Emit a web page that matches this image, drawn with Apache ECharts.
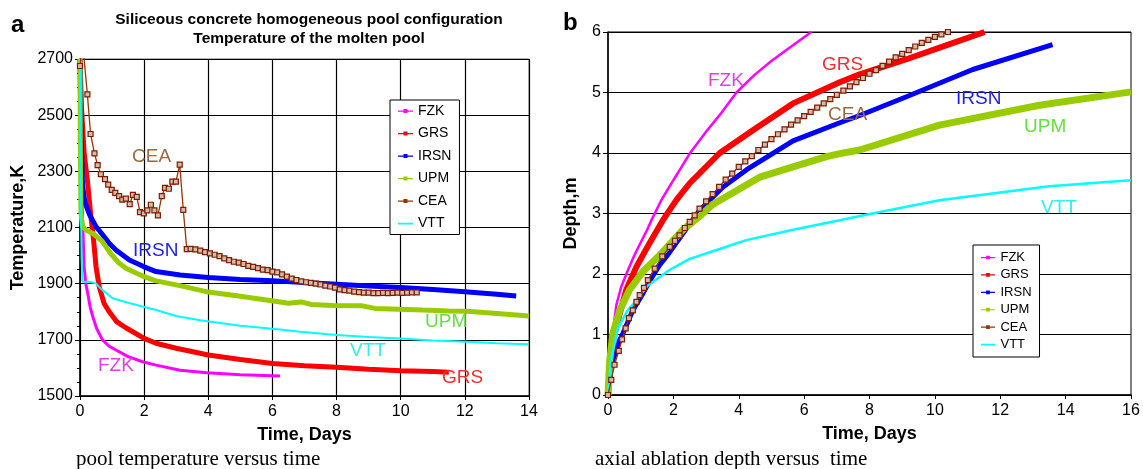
<!DOCTYPE html>
<html>
<head>
<meta charset="utf-8">
<script src="https://cdn.jsdelivr.net/npm/echarts@6/dist/echarts.min.js"></script>
<style>
  html, body { margin: 0; padding: 0; background: #fff; }
  #chart { width: 1143px; height: 469px; }
</style>
</head>
<body>
<div id="chart"></div>
<script>
// names of the codes, same order in both panels
const codes = ['FZK', 'GRS', 'IRSN', 'UPM', 'CEA', 'VTT'];
const colors = ['#ff00ff', '#ff0000', '#0000ff', '#99cc00', '#993300', '#00ffff'];

// panel a : temperature of the molten pool [day, K]
const tempFZK = [[0,2700],[0.03,2450],[0.06,2250],[0.08,2127],[0.13,1960],[0.18,1900],[0.24,1866],[0.32,1815],[0.4,1782],[0.52,1740],[0.7,1700],[0.9,1678],[1.12,1664],[1.5,1640],[1.95,1622],[2.37,1610],[3.12,1592],[3.95,1583],[5,1576],[6.24,1571]];
const tempGRS = [[0,2700],[0.05,2520],[0.13,2364],[0.24,2257],[0.34,2138],[0.42,2060],[0.5,1960],[0.6,1889],[0.75,1830],[0.91,1800],[1.14,1765],[1.43,1743],[2,1705],[2.37,1688],[3,1670],[4,1646],[5,1630],[6,1616],[7,1608],[8,1602],[9,1595],[10,1590],[11,1587],[11.5,1585]];
const tempIRSN = [[0,2700],[0.03,2450],[0.08,2250],[0.15,2190],[0.3,2145],[0.5,2103],[0.7,2075],[0.91,2044],[1.12,2020],[1.54,1984],[2,1960],[2.37,1943],[3.12,1931],[4,1922],[5,1915],[6,1910],[7,1904],[8,1898],[9,1892],[10,1886],[11,1879],[12,1871],[13,1862],[13.6,1856]];
const tempUPM = [[0,2700],[0.01,2400],[0.03,2150],[0.08,2103],[0.2,2090],[0.4,2079],[0.55,2065],[0.7,2050],[0.94,2010],[1.2,1975],[1.43,1955],[2,1925],[2.37,1910],[3.12,1893],[4,1870],[5,1855],[5.82,1842],[6.5,1830],[6.9,1835],[7.2,1826],[7.9,1822],[8.8,1821],[9.2,1812],[10.7,1806],[11.5,1803],[12.06,1802],[12.6,1797],[13.2,1792],[14,1785]];
const tempCEA = [[0,2675],[0.08,2760],[0.23,2574],[0.33,2433],[0.45,2364],[0.55,2322],[0.65,2290],[0.78,2272],[0.88,2253],[0.99,2234],[1.1,2223],[1.22,2212],[1.32,2199],[1.43,2203],[1.55,2183],[1.65,2216],[1.77,2209],[1.87,2155],[1.99,2150],[2.1,2161],[2.21,2181],[2.32,2161],[2.43,2143],[2.55,2212],[2.65,2241],[2.77,2238],[2.88,2263],[2.99,2263],[3.11,2324],[3.22,2163],[3.33,2023],
  [3.45,2024],[3.6,2022],[3.75,2018],[3.9,2012],[4.05,2008],[4.2,2003],[4.35,1998],[4.5,1990],[4.65,1984],[4.8,1978],[4.95,1975],[5.1,1970],[5.25,1963],[5.4,1960],[5.55,1955],[5.7,1950],[5.85,1948],[6,1943],[6.15,1940],[6.3,1933],[6.45,1925],[6.6,1918],[6.75,1913],[6.9,1908],[7.05,1905],[7.2,1903],[7.35,1900],[7.5,1897],[7.65,1893],[7.8,1890],[7.95,1886],[8.1,1880],[8.25,1877],[8.4,1875],[8.55,1872],[8.7,1870],[8.85,1868],[9,1868],[9.15,1866],[9.3,1866],[9.45,1867],[9.6,1866],[9.75,1867],[9.9,1868],[10.05,1867],[10.2,1868],[10.35,1869],[10.5,1869]];
const tempVTT = [[0,2700],[0.02,2300],[0.05,1990],[0.08,1907],[0.29,1907],[0.5,1901],[0.6,1888],[0.7,1877],[1.02,1848],[1.5,1832],[1.97,1818],[2.37,1806],[3,1785],[3.74,1770],[5,1750],[6.24,1737],[6.86,1729],[8,1717],[9,1710],[9.98,1705],[11,1698],[12.06,1693],[13,1688],[13.98,1684]];

// panel b : axial ablation depth [day, m]
const depthFZK = [[0,0],[0.1,0.85],[0.26,1.5],[0.4,1.78],[0.6,2.05],[0.8,2.3],[1,2.52],[1.17,2.7],[1.33,2.89],[1.63,3.22],[2,3.55],[2.5,3.99],[3,4.35],[3.42,4.63],[3.93,5],[4.5,5.3],[5,5.52],[5.5,5.72],[6.22,6]];
const depthGRS = [[0,0],[0.1,0.7],[0.2,1],[0.36,1.35],[0.56,1.74],[0.87,2.12],[1.27,2.51],[1.68,2.89],[2.09,3.22],[2.5,3.5],[3.42,4],[4.5,4.4],[5.66,4.82],[7.09,5.17],[7.7,5.3],[8.5,5.44],[9.13,5.55],[10.3,5.77],[11.52,6]];
const depthIRSN = [[0,0],[0.1,0.5],[0.36,0.91],[0.46,1.02],[0.76,1.4],[1.07,1.68],[1.27,1.88],[1.58,2.15],[1.79,2.29],[2.4,2.75],[2.8,3.05],[3.5,3.43],[4.23,3.72],[5.66,4.2],[7.09,4.5],[7.7,4.62],[9.13,4.93],[11.16,5.38],[13.6,5.79]];
const depthUPM = [[0,0],[0.05,0.55],[0.15,1.02],[0.36,1.4],[0.66,1.74],[1.07,2.04],[1.58,2.31],[2.29,2.73],[2.8,2.95],[3.2,3.15],[4.64,3.6],[6.68,3.94],[7.09,3.99],[7.7,4.05],[10.14,4.46],[13.2,4.79],[16,5.01]];
const depthCEA = [[0,0],[0.1,0.25],[0.2,0.5],[0.33,0.73],[0.43,0.92],[0.54,1.1],[0.64,1.27],[0.76,1.4],[0.87,1.54],[0.97,1.65],[1.1,1.77],[1.22,1.9],[1.43,2.09],[1.66,2.29],[1.89,2.45],[2.05,2.55],[2.19,2.64],[2.35,2.76],[2.5,2.86],[2.65,2.97],
  [2.8,3.08],[3,3.2],[3.2,3.32],[3.4,3.44],[3.6,3.56],[3.8,3.66],[4,3.77],[4.2,3.86],[4.4,3.95],[4.6,4.05],[4.8,4.14],[5,4.23],[5.2,4.31],[5.4,4.39],[5.6,4.47],[5.8,4.54],[6,4.61],[6.2,4.68],[6.4,4.75],[6.6,4.82],[6.8,4.89],[7,4.96],[7.2,5.03],[7.4,5.1],[7.6,5.17],[7.8,5.24],[8,5.31],[8.2,5.37],[8.4,5.44],[8.6,5.51],[8.8,5.58],[9,5.64],[9.2,5.7],[9.4,5.76],[9.6,5.82],[9.8,5.87],[10,5.92],[10.2,5.96],[10.4,6]];
const depthVTT = [[0,0],[0.1,0.6],[0.3,1.1],[0.6,1.4],[0.88,1.57],[1.2,1.8],[1.89,2.07],[2.5,2.25],[3.62,2.45],[4.23,2.56],[5.66,2.73],[7.09,2.89],[7.7,2.96],[10.14,3.22],[13.5,3.45],[16,3.55]];

const tempData = [tempFZK, tempGRS, tempIRSN, tempUPM, tempCEA, tempVTT];
const depthData = [depthFZK, depthGRS, depthIRSN, depthUPM, depthCEA, depthVTT];

// line widths per code, panel a then panel b
const widthA = [3, 5, 5, 5, 1.3, 2];
const widthB = [2.5, 6, 5, 7, 1.3, 2.5];

const font = 'Liberation Sans, Arial, sans-serif';
const serif = 'Liberation Serif, Times New Roman, serif';

function makeSeries(data, idx, widths) {
    return data.map((d, i) => ({
        name: codes[i],
        type: 'line',
        xAxisIndex: idx,
        yAxisIndex: idx,
        data: d,
        z: i == 4 ? 5 : 3,
        symbol: i == 4 ? 'rect' : 'none',
        symbolSize: 5,
        showSymbol: i == 4,
        itemStyle: i == 4 ? { color: '#d8b8a8', borderColor: '#7a1e00', borderWidth: 1.2 } : { color: colors[i] },
        lineStyle: { color: colors[i], width: widths[i] },
        clip: true
    }));
}

// legend icon: a short line with a small marker, the tiny corner dots keep the box 15x14
const legendIcon = 'path://M0,0h0.05v0.05h-0.05z M0,6.4h15v1.3h-15z M5.5,5h4v4h-4z M14.95,13.95h0.05v0.05h-0.05z';
const legendItems = codes.map((c, i) => ({
    name: c,
    icon: i == 5 ? 'path://M0,0h0.05v0.05h-0.05z M0,6.2h15v1.8h-15z M14.95,13.95h0.05v0.05h-0.05z' : legendIcon,
    itemStyle: { color: colors[i], borderWidth: 0 }
}));

// series labels written on the plots
const labelsA = [
    { text: 'CEA', x: 132, y: 157, c: '#9c6a3c' },
    { text: 'IRSN', x: 133, y: 251, c: '#2020ee' },
    { text: 'FZK', x: 98, y: 366, c: '#e040e0' },
    { text: 'UPM', x: 425, y: 322, c: '#66e040' },
    { text: 'VTT', x: 350, y: 351, c: '#30eeee' },
    { text: 'GRS', x: 442, y: 378, c: '#ee3030' }
];
const labelsB = [
    { text: 'FZK', x: 708, y: 81, c: '#e040e0' },
    { text: 'GRS', x: 822, y: 65, c: '#ee3030' },
    { text: 'CEA', x: 828, y: 115, c: '#9c6a3c' },
    { text: 'IRSN', x: 956, y: 99, c: '#2020ee' },
    { text: 'UPM', x: 1024, y: 127, c: '#66e040' },
    { text: 'VTT', x: 1041, y: 208, c: '#30eeee' }
];

const texts = labelsA.concat(labelsB).map(l => ({
    type: 'text', x: l.x, y: l.y, z: 10,
    style: { text: l.text, fill: l.c, font: '19px ' + font, textVerticalAlign: 'middle' }
}));

let chart = echarts.init(document.getElementById('chart'));

const axisText = { color: '#000', fontSize: 16, fontFamily: font };
const nameText = { color: '#000', fontSize: 18, fontWeight: 'bold', fontFamily: font };

let option = {
    animation: false,
    backgroundColor: '#fff',
    title: {
        text: 'Siliceous concrete homogeneous pool configuration\nTemperature of the molten pool',
        left: 304, top: 5, textAlign: 'center',
        textStyle: { fontSize: 15.5, fontWeight: 'bold', fontFamily: font, color: '#000', lineHeight: 19 }
    },
    grid: [
        { left: 80, right: 614, top: 59, bottom: 73, show: true, borderColor: '#666', borderWidth: 1 },
        { left: 608, right: 12, top: 32, bottom: 74, show: true, borderColor: '#000', borderWidth: 1 }
    ],
    legend: [
        {
            data: legendItems, left: 390, top: 100, orient: 'vertical',
            itemWidth: 15, itemHeight: 14, itemGap: 8.5, padding: [4, 8, 4, 8],
            borderColor: '#000', borderWidth: 1, backgroundColor: '#fff',
            textStyle: { fontSize: 14, fontFamily: font, color: '#000' }
        },
        {
            data: legendItems, left: 973, top: 245, orient: 'vertical',
            itemWidth: 15, itemHeight: 13, itemGap: 4.4, padding: [6, 8, 6, 8],
            borderColor: '#000', borderWidth: 1, backgroundColor: '#fff',
            textStyle: { fontSize: 13, fontFamily: font, color: '#000' }
        }
    ],
    xAxis: [
        {
            gridIndex: 0, type: 'value', min: 0, max: 14, interval: 2,
            name: 'Time, Days', nameLocation: 'middle', nameGap: 30, nameTextStyle: nameText,
            axisLine: { lineStyle: { color: '#000', width: 1.5 } },
            axisTick: { show: true, length: 4, lineStyle: { color: '#000' } },
            axisLabel: axisText,
            splitLine: { show: true, lineStyle: { color: '#000', width: 1.2 } }
        },
        {
            gridIndex: 1, type: 'value', min: 0, max: 16, interval: 2,
            name: 'Time, Days', nameLocation: 'middle', nameGap: 30, nameTextStyle: nameText,
            axisLine: { lineStyle: { color: '#000', width: 1.5 } },
            axisTick: { show: true, length: 4, lineStyle: { color: '#000' } },
            axisLabel: axisText,
            splitLine: { show: false }
        }
    ],
    yAxis: [
        {
            gridIndex: 0, type: 'value', min: 1500, max: 2700, interval: 200,
            name: 'Temperature,K', nameLocation: 'middle', nameGap: 53, nameTextStyle: nameText,
            axisLine: { show: true, lineStyle: { color: '#000', width: 1.5 } },
            axisTick: { show: true, length: 5, lineStyle: { color: '#000' } },
            minorTick: { show: true, splitNumber: 4, length: 3, lineStyle: { color: '#000' } },
            axisLabel: Object.assign({ margin: 7, formatter: v => String(v) }, axisText),
            splitLine: { show: true, lineStyle: { color: '#000', width: 1.2 } }
        },
        {
            gridIndex: 1, type: 'value', min: 0, max: 6, interval: 1,
            name: 'Depth,m', nameLocation: 'middle', nameGap: 28, nameTextStyle: nameText,
            axisLine: { show: true, lineStyle: { color: '#000', width: 1.5 } },
            axisTick: { show: true, length: 5, lineStyle: { color: '#000' } },
            axisLabel: Object.assign({ margin: 7 }, axisText),
            splitLine: { show: true, lineStyle: { color: '#000', width: 1.2 } }
        }
    ],
    graphic: texts.concat([
        { type: 'text', x: 11, y: 13, style: { text: 'a', font: 'bold 24px ' + font, fill: '#000' } },
        { type: 'text', x: 563, y: 11, style: { text: 'b', font: 'bold 24px ' + font, fill: '#000' } },
        { type: 'text', x: 76, y: 449, style: { text: 'pool temperature versus time', font: '21px ' + serif, fill: '#000' } },
        { type: 'text', x: 595, y: 449, style: { text: 'axial ablation depth versus  time', font: '21px ' + serif, fill: '#000' } }
    ]),
    series: makeSeries(tempData, 0, widthA).concat(makeSeries(depthData, 1, widthB))
};

chart.setOption(option);
</script>
</body>
</html>
